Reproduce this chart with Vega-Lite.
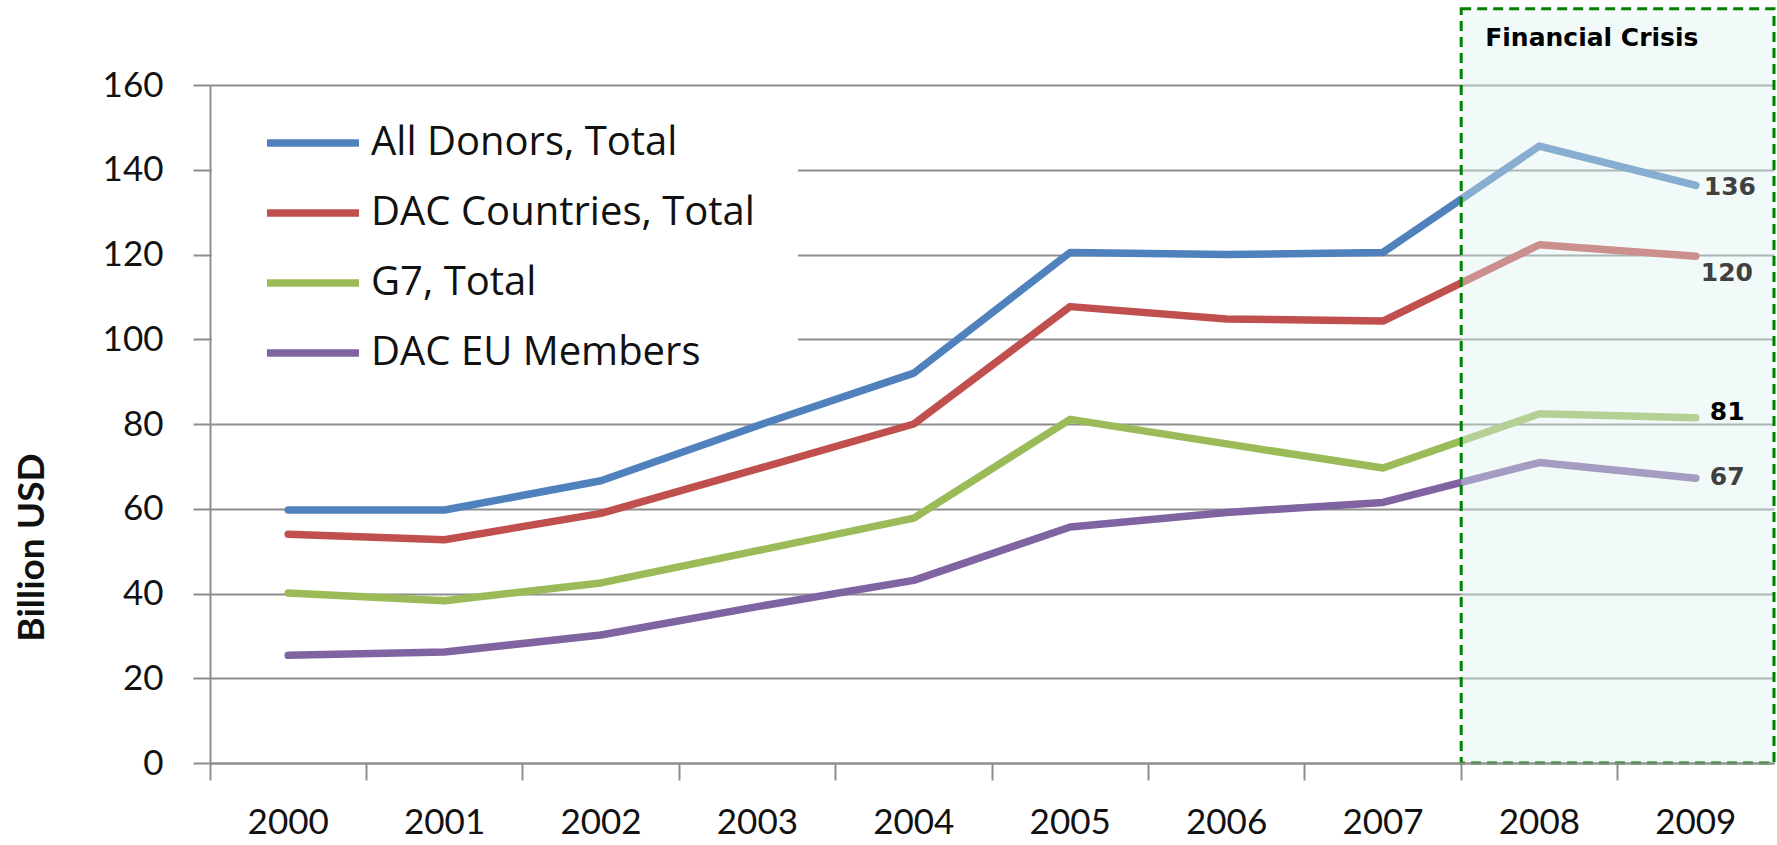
{
  "$schema": "https://vega.github.io/schema/vega-lite/v6.json",
  "width": 1564,
  "height": 678,
  "autosize": {"type": "none"},
  "padding": {"left": 210, "top": 85, "right": 3, "bottom": 82},
  "background": "white",
  "datasets": {
    "oda": [
      {"year": "2000", "series": "All Donors, Total", "value": 59.7},
      {"year": "2001", "series": "All Donors, Total", "value": 59.7},
      {"year": "2002", "series": "All Donors, Total", "value": 66.6},
      {"year": "2003", "series": "All Donors, Total", "value": 79.6},
      {"year": "2004", "series": "All Donors, Total", "value": 92.0},
      {"year": "2005", "series": "All Donors, Total", "value": 120.5},
      {"year": "2006", "series": "All Donors, Total", "value": 120.0},
      {"year": "2007", "series": "All Donors, Total", "value": 120.5},
      {"year": "2008", "series": "All Donors, Total", "value": 145.6},
      {"year": "2009", "series": "All Donors, Total", "value": 136.3},
      {"year": "2000", "series": "DAC Countries, Total", "value": 54.0},
      {"year": "2001", "series": "DAC Countries, Total", "value": 52.7},
      {"year": "2002", "series": "DAC Countries, Total", "value": 58.9},
      {"year": "2003", "series": "DAC Countries, Total", "value": 69.4},
      {"year": "2004", "series": "DAC Countries, Total", "value": 80.0},
      {"year": "2005", "series": "DAC Countries, Total", "value": 107.7},
      {"year": "2006", "series": "DAC Countries, Total", "value": 104.8},
      {"year": "2007", "series": "DAC Countries, Total", "value": 104.3},
      {"year": "2008", "series": "DAC Countries, Total", "value": 122.3},
      {"year": "2009", "series": "DAC Countries, Total", "value": 119.6},
      {"year": "2000", "series": "G7, Total", "value": 40.1},
      {"year": "2001", "series": "G7, Total", "value": 38.3},
      {"year": "2002", "series": "G7, Total", "value": 42.5},
      {"year": "2003", "series": "G7, Total", "value": 50.1},
      {"year": "2004", "series": "G7, Total", "value": 57.8},
      {"year": "2005", "series": "G7, Total", "value": 81.1},
      {"year": "2006", "series": "G7, Total", "value": 75.3},
      {"year": "2007", "series": "G7, Total", "value": 69.6},
      {"year": "2008", "series": "G7, Total", "value": 82.4},
      {"year": "2009", "series": "G7, Total", "value": 81.5},
      {"year": "2000", "series": "DAC EU Members", "value": 25.4},
      {"year": "2001", "series": "DAC EU Members", "value": 26.2},
      {"year": "2002", "series": "DAC EU Members", "value": 30.2},
      {"year": "2003", "series": "DAC EU Members", "value": 36.9},
      {"year": "2004", "series": "DAC EU Members", "value": 43.1},
      {"year": "2005", "series": "DAC EU Members", "value": 55.7},
      {"year": "2006", "series": "DAC EU Members", "value": 59.1},
      {"year": "2007", "series": "DAC EU Members", "value": 61.5},
      {"year": "2008", "series": "DAC EU Members", "value": 70.9},
      {"year": "2009", "series": "DAC EU Members", "value": 67.2}
    ],
    "endLabels": [
      {"year": "2009", "series": "All Donors, Total", "value": 136.3, "label": "136"},
      {"year": "2009", "series": "DAC Countries, Total", "value": 119.6, "label": "120"},
      {"year": "2009", "series": "G7, Total", "value": 81.5, "label": "81"},
      {"year": "2009", "series": "DAC EU Members", "value": 67.2, "label": "67"}
    ],
    "crisis": [
      {"start": "2008", "end": "2009", "bottom": 0, "top": 178, "textY": 171, "label": "Financial Crisis"}
    ],
    "legendArea": [
      {"from": "2000", "to": "2003", "low": 89, "high": 158}
    ]
  },
  "layer": [
    {
      "data": {"name": "legendArea"},
      "mark": {"type": "rect", "fill": "white"},
      "encoding": {
        "x": {"field": "from", "type": "nominal", "bandPosition": 0.012},
        "x2": {"field": "to", "bandPosition": 0.76},
        "y": {"field": "low", "type": "quantitative"},
        "y2": {"field": "high"}
      }
    },
    {
      "data": {"name": "oda"},
      "mark": {"type": "line", "strokeWidth": 7.5, "strokeCap": "round", "strokeJoin": "round"},
      "encoding": {
        "x": {
          "field": "year", "type": "nominal", "sort": null,
          "scale": {"type": "band", "paddingInner": 0, "paddingOuter": 0},
          "axis": {
            "title": null, "bandPosition": 0, "labelOffset": 0, "labelBound": false, "labelOverlap": false,
            "labelAngle": 0, "labelAlign": "center", "labelBaseline": "top",
            "labelFont": "Lato", "labelFontSize": 35, "labelColor": "#111", "labelPadding": 25,
            "tickSize": 17, "tickWidth": 2, "tickColor": "#8e8e8e",
            "domainColor": "#8e8e8e", "domainWidth": 2, "grid": false
          }
        },
        "y": {
          "field": "value", "type": "quantitative",
          "scale": {"domain": [0, 160], "nice": false, "zero": true},
          "axis": {
            "title": "Billion USD", "values": [0, 20, 40, 60, 80, 100, 120, 140, 160],
            "titleFont": "Lato", "titleFontSize": 37, "titleFontWeight": "bold", "titleColor": "#111",
            "titleAngle": -90, "titleX": -178, "titleY": 462, "titleAlign": "center", "titleBaseline": "middle",
            "labelFont": "Lato", "labelFontSize": 35, "labelColor": "#111", "labelPadding": 30,
            "tickSize": 17, "tickWidth": 2, "tickColor": "#8e8e8e",
            "domainColor": "#8e8e8e", "domainWidth": 2,
            "grid": true, "gridColor": "#8e8e8e", "gridWidth": 2
          }
        },
        "color": {
          "field": "series", "type": "nominal",
          "scale": {
            "domain": ["All Donors, Total", "DAC Countries, Total", "G7, Total", "DAC EU Members"],
            "range": ["#4f81bd", "#c0504d", "#9bbb59", "#8064a2"]
          },
          "legend": {
            "title": null, "orient": "none", "legendX": 53, "legendY": 8,
            "symbolType": "stroke", "symbolSize": 8464, "symbolStrokeWidth": 7.5,
            "labelFont": "Open Sans", "labelFontSize": 40, "labelColor": "#111", "labelOffset": 8, "labelLimit": 800,
            "padding": 0, "rowPadding": -15.5
          }
        }
      }
    },
    {
      "data": {"name": "crisis"},
      "mark": {"type": "rect", "fill": "#dcefef", "fillOpacity": 0.4, "stroke": "#008000", "strokeWidth": 3, "strokeDash": [10, 6], "strokeOpacity": 1},
      "encoding": {
        "x": {"field": "start", "type": "nominal", "bandPosition": 0},
        "x2": {"field": "end", "bandPosition": 1},
        "y": {"field": "bottom", "type": "quantitative"},
        "y2": {"field": "top"}
      }
    },
    {
      "data": {"name": "crisis"},
      "mark": {"type": "text", "font": "DejaVu Sans", "fontWeight": "bold", "fontSize": 25, "color": "#000", "align": "left", "baseline": "middle", "dx": 24},
      "encoding": {
        "x": {"field": "start", "type": "nominal", "bandPosition": 0},
        "y": {"field": "textY", "type": "quantitative"},
        "text": {"field": "label"}
      }
    },
    {
      "data": {"name": "endLabels"},
      "transform": [{"filter": "datum.label == '136'"}],
      "mark": {"type": "text", "font": "DejaVu Sans", "fontWeight": "bold", "fontSize": 25, "color": "#404040", "align": "left", "baseline": "middle", "dx": 8, "dy": 2},
      "encoding": {
        "x": {"field": "year", "type": "nominal"},
        "y": {"field": "value", "type": "quantitative"},
        "text": {"field": "label"}
      }
    },
    {
      "data": {"name": "endLabels"},
      "transform": [{"filter": "datum.label == '120'"}],
      "mark": {"type": "text", "font": "DejaVu Sans", "fontWeight": "bold", "fontSize": 25, "color": "#404040", "align": "left", "baseline": "middle", "dx": 5, "dy": 17},
      "encoding": {
        "x": {"field": "year", "type": "nominal"},
        "y": {"field": "value", "type": "quantitative"},
        "text": {"field": "label"}
      }
    },
    {
      "data": {"name": "endLabels"},
      "transform": [{"filter": "datum.label == '81'"}],
      "mark": {"type": "text", "font": "DejaVu Sans", "fontWeight": "bold", "fontSize": 25, "color": "#000", "align": "left", "baseline": "middle", "dx": 14, "dy": -6},
      "encoding": {
        "x": {"field": "year", "type": "nominal"},
        "y": {"field": "value", "type": "quantitative"},
        "text": {"field": "label"}
      }
    },
    {
      "data": {"name": "endLabels"},
      "transform": [{"filter": "datum.label == '67'"}],
      "mark": {"type": "text", "font": "DejaVu Sans", "fontWeight": "bold", "fontSize": 25, "color": "#404040", "align": "left", "baseline": "middle", "dx": 14, "dy": -1},
      "encoding": {
        "x": {"field": "year", "type": "nominal"},
        "y": {"field": "value", "type": "quantitative"},
        "text": {"field": "label"}
      }
    }
  ],
  "config": {"view": {"stroke": null}}
}
